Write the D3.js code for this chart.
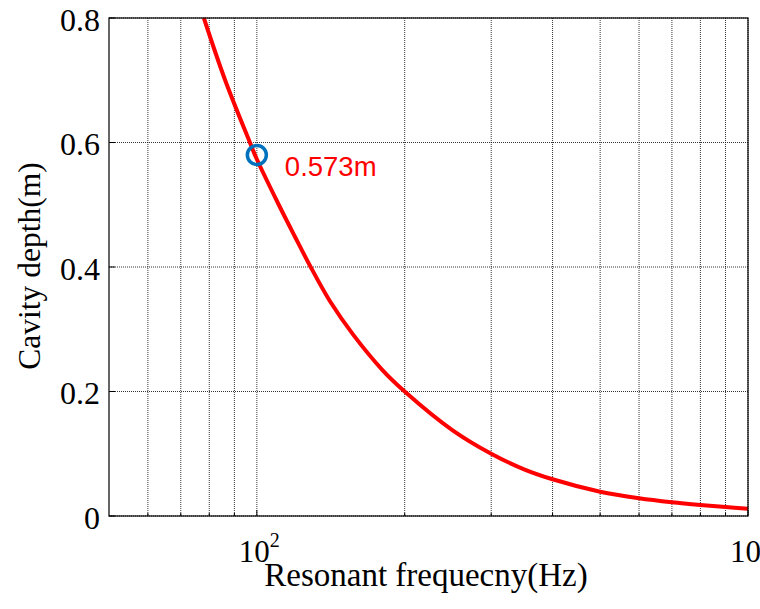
<!DOCTYPE html>
<html>
<head>
<meta charset="utf-8">
<script src="https://cdn.jsdelivr.net/npm/d3@7"></script>
<style>
  body { margin: 0; background: #fff; }
  svg { display: block; }
</style>
</head>
<body>
<div id="chart"></div>
<script>
// Values
const freqs = [78, 86.2, 96.8, 100, 110.5, 119.5, 128.3, 140.9, 157.2, 180.2, 200, 250, 300, 350, 400, 500, 600, 700, 800, 900, 1000];
const depths = [0.80, 0.70, 0.60, 0.573, 0.502, 0.449, 0.402, 0.345, 0.291, 0.2345, 0.20, 0.138, 0.100, 0.075, 0.059, 0.039, 0.0284, 0.022, 0.0177, 0.0145, 0.0118];
const markerFreq = 100;
const markerDepth = 0.58;
const markerLabel = '0.573m';
const yTicks = [0, 0.2, 0.4, 0.6, 0.8];
const xGrid = [60, 70, 80, 90, 100, 200, 300, 400, 500, 600, 700, 800, 900, 1000];
const xMajor = [100, 1000];

const width = 760, height = 609;
const margin = { left: 109, right: 12, top: 18, bottom: 93 };
const innerW = width - margin.left - margin.right;
const innerH = height - margin.top - margin.bottom;

const svg = d3.select('#chart').append('svg')
  .attr('width', width)
  .attr('height', height);

const g = svg.append('g').attr('transform', `translate(${margin.left},${margin.top})`);

const x = d3.scaleLog().domain([50, 1000]).range([0, innerW]);
const y = d3.scaleLinear().domain([0, 0.8]).range([innerH, 0]);

// grid
g.selectAll('.vgrid').data(xGrid).enter().append('line')
  .attr('x1', d => x(d)).attr('x2', d => x(d))
  .attr('y1', 0).attr('y2', innerH)
  .attr('stroke', '#000').attr('stroke-width', 0.8)
  .attr('stroke-dasharray', '1,1');

g.selectAll('.hgrid').data(yTicks).enter().append('line')
  .attr('x1', 0).attr('x2', innerW)
  .attr('y1', d => y(d)).attr('y2', d => y(d))
  .attr('stroke', '#000').attr('stroke-width', 0.8)
  .attr('stroke-dasharray', '1,1');

// curve
const pts = freqs.map((f, i) => [f, depths[i]]);
const line = d3.line()
  .x(d => x(d[0]))
  .y(d => y(d[1]))
  .curve(d3.curveCatmullRom);

g.append('path')
  .datum(pts)
  .attr('d', line)
  .attr('fill', 'none')
  .attr('stroke', '#ff0000')
  .attr('stroke-width', 4);

// marker
g.append('circle')
  .attr('cx', x(markerFreq))
  .attr('cy', y(markerDepth))
  .attr('r', 9.5)
  .attr('fill', 'none')
  .attr('stroke', '#0072BD')
  .attr('stroke-width', 3.5);

g.append('text')
  .attr('x', x(markerFreq) + 28)
  .attr('y', y(markerDepth) + 21)
  .attr('font-family', 'Liberation Sans, Arial, sans-serif')
  .attr('font-size', 27.5)
  .attr('fill', '#ff0000')
  .text(markerLabel);

// frame
g.append('rect')
  .attr('width', innerW).attr('height', innerH)
  .attr('fill', 'none').attr('stroke', '#000').attr('stroke-width', 1.2);

// ticks (inward)
g.selectAll('.ytick').data(yTicks).enter().append('line')
  .attr('x1', 0).attr('x2', 6)
  .attr('y1', d => y(d)).attr('y2', d => y(d))
  .attr('stroke', '#000');
g.selectAll('.xtick').data(xGrid).enter().append('line')
  .attr('x1', d => x(d)).attr('x2', d => x(d))
  .attr('y1', innerH).attr('y2', d => innerH - (xMajor.includes(d) ? 6 : 3))
  .attr('stroke', '#000');

// tick labels
const serif = 'Liberation Serif, Times New Roman, serif';
g.selectAll('.ylab').data(yTicks).enter().append('text')
  .attr('x', -9)
  .attr('y', d => y(d) + 12.5)
  .attr('text-anchor', 'end')
  .attr('font-family', serif)
  .attr('font-size', 32)
  .text(d => d === 0 ? '0' : d3.format('.1f')(d));

const xl = g.selectAll('.xlab').data(xMajor).enter().append('text')
  .attr('x', d => x(d) - 18)
  .attr('y', 562 - margin.top)
  .attr('font-family', serif)
  .attr('font-size', 31);
xl.append('tspan').text('10');
xl.append('tspan')
  .attr('dy', -15)
  .attr('font-size', 20)
  .text(d => Math.round(Math.log10(d)));

// axis titles
svg.append('text')
  .attr('x', 426)
  .attr('y', 586)
  .attr('text-anchor', 'middle')
  .attr('font-family', serif)
  .attr('font-size', 33)
  .text('Resonant frequecny(Hz)');

svg.append('text')
  .attr('transform', `translate(40,266) rotate(-90)`)
  .attr('text-anchor', 'middle')
  .attr('font-family', serif)
  .attr('font-size', 31.5)
  .text('Cavity depth(m)');
</script>
</body>
</html>
